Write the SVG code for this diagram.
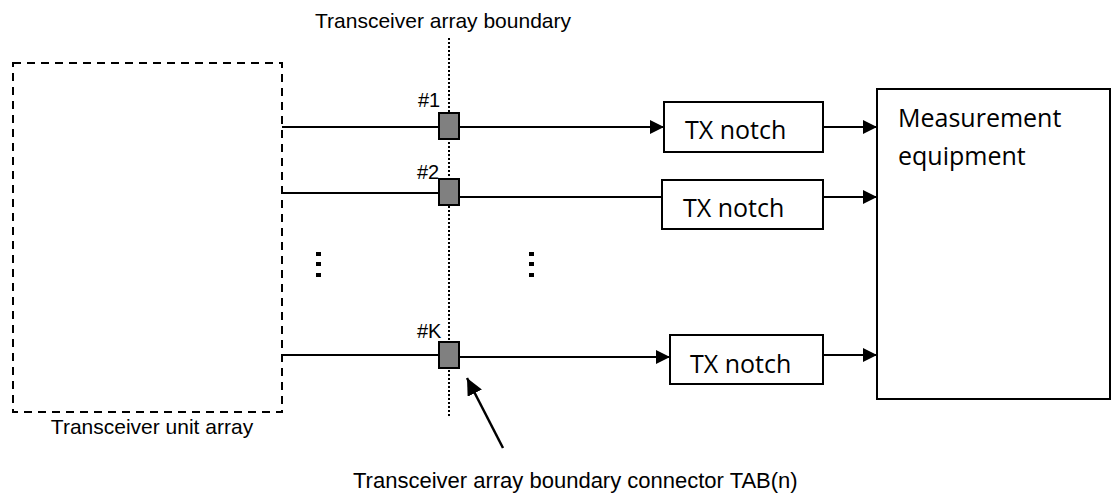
<svg xmlns="http://www.w3.org/2000/svg" width="1115" height="495" viewBox="0 0 1115 495">
<style>
.lbl{font-family:"Liberation Sans",Arial,sans-serif;font-size:21px;fill:#000}
.num{font-family:"Liberation Sans",Arial,sans-serif;font-size:20px;fill:#000}
.box{font-family:"Open Sans","DejaVu Sans",sans-serif;font-size:25px;fill:#000}
.ln{stroke:#000;stroke-width:2;fill:none}
.rect{fill:#fff;stroke:#000;stroke-width:2}
.tab{fill:#808080;stroke:#000;stroke-width:2}
</style>
<defs>
<marker id="ah" markerUnits="userSpaceOnUse" markerWidth="15" markerHeight="14" refX="14" refY="7" orient="auto">
<path d="M0,0 L14,7 L0,14 Z" fill="#000"/>
</marker>
<marker id="ah2" markerUnits="userSpaceOnUse" markerWidth="18" markerHeight="16" refX="17" refY="8" orient="auto">
<path d="M0,0 L17,8 L0,16 Z" fill="#000"/>
</marker>
</defs>
<rect width="1115" height="495" fill="#fff"/>
<g id="unit-array">
<rect x="13" y="63" width="269" height="349" fill="none" stroke="#000" stroke-width="2" stroke-dasharray="8 6"/>
<text class="lbl" x="152" y="434" text-anchor="middle">Transceiver unit array</text>
</g>
<g id="boundary">
<line x1="449" y1="38" x2="449" y2="416" stroke="#000" stroke-width="2" stroke-dasharray="2 2"/>
<text class="lbl" x="443" y="28" text-anchor="middle">Transceiver array boundary</text>
</g>
<g id="connectors">
<line class="ln" x1="282" y1="127" x2="439" y2="127"/>
<line class="ln" x1="459" y1="127" x2="664" y2="127" marker-end="url(#ah)"/>
<line class="ln" x1="282" y1="193" x2="439" y2="193"/>
<line class="ln" x1="459" y1="197" x2="662" y2="197"/>
<line class="ln" x1="282" y1="355" x2="439" y2="355"/>
<line class="ln" x1="459" y1="357" x2="670" y2="357" marker-end="url(#ah)"/>
<line class="ln" x1="823" y1="127" x2="877" y2="127" marker-end="url(#ah)"/>
<line class="ln" x1="823" y1="197" x2="877" y2="197" marker-end="url(#ah)"/>
<line class="ln" x1="823" y1="355" x2="877" y2="355" marker-end="url(#ah)"/>
<line x1="503" y1="448" x2="467" y2="378" stroke="#000" stroke-width="2.5" marker-end="url(#ah2)"/>
</g>
<g id="tab1"><rect class="tab" x="439" y="113" width="20" height="26"/><text class="num" x="418" y="107">#1</text></g>
<g id="tab2"><rect class="tab" x="439" y="179" width="20" height="26"/><text class="num" x="417" y="179">#2</text></g>
<g id="tabK"><rect class="tab" x="439" y="342" width="20" height="26"/><text class="num" x="417" y="338">#K</text></g>
<g id="dots">
<rect x="316" y="252" width="5" height="4"/><rect x="316" y="262" width="5" height="4"/><rect x="316" y="273" width="5" height="4"/>
<rect x="529" y="252" width="5" height="4"/><rect x="529" y="262" width="5" height="4"/><rect x="529" y="273" width="5" height="4"/>
</g>
<g id="notch1"><rect class="rect" x="664" y="102" width="159" height="50"/><text class="box" x="685" y="139">TX notch</text></g>
<g id="notch2"><rect class="rect" x="662" y="180" width="161" height="49"/><text class="box" x="683" y="217">TX notch</text></g>
<g id="notchK"><rect class="rect" x="670" y="335" width="153" height="49"/><text class="box" x="690" y="373">TX notch</text></g>
<g id="measurement"><rect class="rect" x="877" y="89" width="233" height="310"/><text class="box" x="898" y="127">Measurement</text><text class="box" x="898" y="165">equipment</text></g>
<g id="tab-label"><text class="lbl" x="353" y="488" style="font-size:22px">Transceiver array boundary connector TAB(n)</text></g>
</svg>
